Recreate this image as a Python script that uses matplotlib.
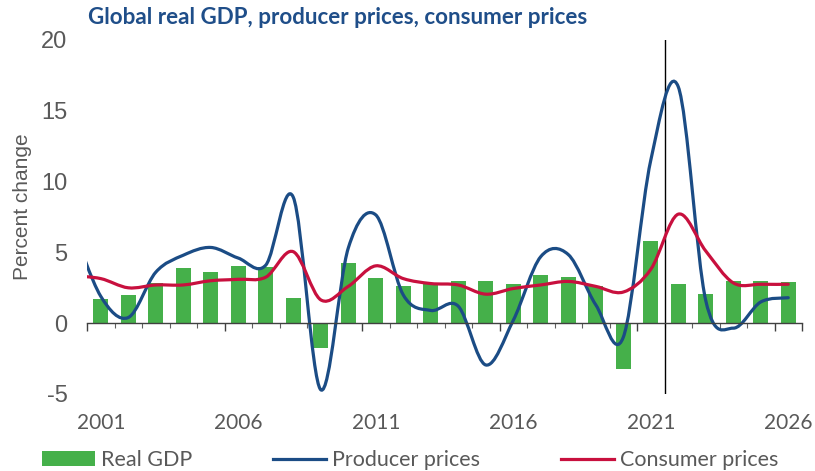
import numpy as np
import matplotlib
matplotlib.use('Agg')
import matplotlib.pyplot as plt
from matplotlib.path import Path
from matplotlib.patches import PathPatch, Patch
from matplotlib.lines import Line2D

# ---- data ----
years = list(range(2001, 2027))
gdp = [1.7, 2.0, 2.85, 3.9, 3.6, 4.05, 4.0, 1.75, -1.75, 4.25, 3.2, 2.65, 2.8,
       2.95, 2.95, 2.8, 3.4, 3.25, 2.65, -3.25, 5.8, 2.8, 2.05, 2.95, 2.95, 2.9]
line_years = list(range(2000, 2027))
producer = [6.7, 1.9, 0.4, 3.6, 4.8, 5.35, 4.6, 4.1, 8.9, -4.7, 5.3, 7.65, 2.0,
            0.9, 1.2, -2.95, 0.2, 4.7, 4.85, 1.3, -1.0, 11.5, 16.7, 1.6, -0.35,
            1.5, 1.8]
consumer = [3.35, 3.15, 2.5, 2.7, 2.7, 3.0, 3.1, 3.25, 5.05, 1.65, 2.6, 4.05,
            3.15, 2.8, 2.7, 2.05, 2.45, 2.7, 2.95, 2.6, 2.2, 3.8, 7.7, 5.1, 2.85,
            2.75, 2.75]
tick_years = [2001, 2006, 2011, 2016, 2021, 2026]
y_ticks = [-5, 0, 5, 10, 15, 20]
forecast_after = 2021
series_labels = ["Real GDP", "Producer prices", "Consumer prices"]
title = "Global real GDP, producer prices, consumer prices"

green = '#45B04A'
blue = '#1B4C85'
red = '#C8103E'
gray = '#595959'

W, H = 815, 471
fig = plt.figure(figsize=(W / 100, H / 100), dpi=100)
ax = fig.add_axes([87 / W, 1 - 394 / H, (802 - 87) / W, (394 - 40) / H])

x0 = years[0]
xb = np.array(years) - x0
ax.bar(xb, gdp, width=0.56, color=green, zorder=2)


def smooth_path(xs, ys):
    pts = np.column_stack([xs, ys]).astype(float)
    n = len(pts)
    verts = [pts[0]]
    codes = [Path.MOVETO]
    for i in range(n - 1):
        p0 = pts[i - 1] if i > 0 else pts[i]
        p1 = pts[i]
        p2 = pts[i + 1]
        p3 = pts[i + 2] if i + 2 < n else pts[i + 1]
        c1 = p1 + (p2 - p0) / 6
        c2 = p2 - (p3 - p1) / 6
        verts += [c1, c2, p2]
        codes += [Path.CURVE4] * 3
    return Path(verts, codes)


xl = np.array(line_years) - x0
for vals, col in [(producer, blue), (consumer, red)]:
    pp = PathPatch(smooth_path(xl, vals), fill=False, edgecolor=col, lw=2.3,
                   capstyle='round', joinstyle='round', zorder=4)
    ax.add_patch(pp)

ax.axvline(forecast_after - x0 + 0.5, color='black', lw=1.0, zorder=3)

ax.set_xlim(-0.5, len(years) - 0.5)
ax.set_ylim(y_ticks[0], y_ticks[-1])

for s in ['top', 'right', 'left']:
    ax.spines[s].set_visible(False)
ax.spines['bottom'].set_position(('data', 0))
ax.spines['bottom'].set_color('#404040')
ax.spines['bottom'].set_linewidth(1.0)
ax.spines['bottom'].set_zorder(5)

bounds = np.arange(len(years) + 1) - 0.5
ax.set_xticks(bounds[::5].tolist() + [bounds[-1]])
ax.set_xticks(bounds, minor=True)
ax.tick_params(axis='x', which='major', length=5.8, width=1.0, color='#404040',
               labelbottom=False, direction='out')
ax.tick_params(axis='x', which='minor', length=3.6, width=0.8, color='#606060',
               labelbottom=False, direction='out')

ax.set_yticks(y_ticks)
ax.set_yticklabels([str(v) for v in y_ticks], fontsize=17, color=gray,
                   family='Liberation Sans')
ax.tick_params(axis='y', length=0, pad=14)

sec = ax.secondary_xaxis(0)
sec.set_xticks([t - x0 for t in tick_years])
sec.set_xticklabels([str(t) for t in tick_years], fontsize=15, color=gray,
                    family='Lato')
sec.tick_params(length=0, pad=14)
sec.spines['bottom'].set_visible(False)

fig.text(23 / W, 1 - 207 / H, "Percent change", rotation=90, ha='center',
         va='center', fontsize=15, color=gray, family='Liberation Sans')

fig.text(88 / W, 1 - 18 / H, title, ha='left', va='center', fontsize=16.1,
         fontweight='bold', color='#1F4E89', family='Lato')

handles = [Patch(facecolor=green, edgecolor='none'),
           Line2D([], [], color=blue, lw=2.3),
           Line2D([], [], color=red, lw=2.3)]
leg = fig.legend(handles, series_labels, loc='center left',
                 bbox_to_anchor=(42 / W, 1 - 460 / H), ncol=3, frameon=False,
                 prop={'family': 'Lato', 'size': 15.5}, labelcolor=gray,
                 handlelength=2.45, handleheight=0.65, handletextpad=0.3,
                 columnspacing=3.75, borderaxespad=0, borderpad=0)

fig.savefig('out.png', dpi=100)
